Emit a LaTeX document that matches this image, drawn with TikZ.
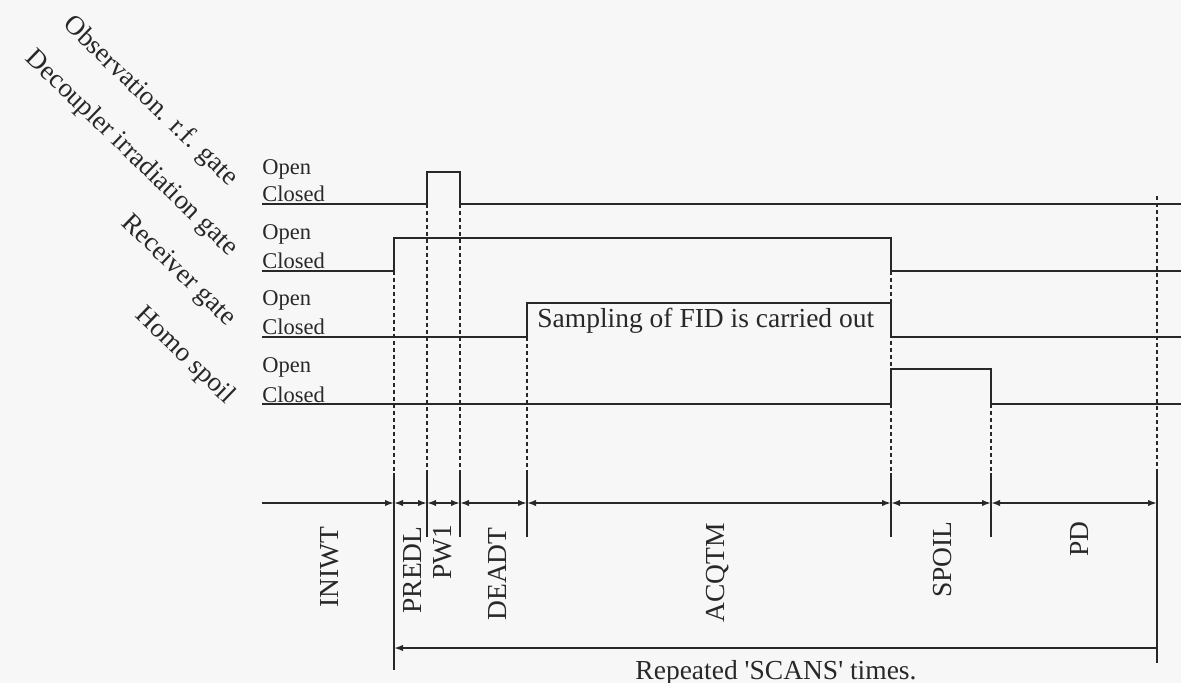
\documentclass[tikz,border=0pt]{standalone}
\usepackage{fontspec}
\setmainfont{Liberation Serif}
\usetikzlibrary{arrows.meta}
\definecolor{ink}{RGB}{40,40,40}

\begin{document}
\begin{tikzpicture}[x=0.5pt,y=-0.5pt,color=ink,
  sig/.style={line width=0.85pt},
  guide/.style={line width=0.6pt,dash pattern=on 2pt off 1.5pt},
  tick/.style={line width=0.6pt},
  dim/.style={line width=0.85pt,{Latex[length=4.5pt,width=3.2pt]}-{Latex[length=4.5pt,width=3.2pt]}},
  lvl/.style={font=\fontsize{11.25}{13}\selectfont,anchor=base west,inner sep=0pt},
  gate/.style={font=\fontsize{13.5}{15}\selectfont,rotate=-44,anchor=base east,inner sep=0pt},
  seg/.style={font=\fontsize{13.75}{16}\selectfont,rotate=90,anchor=east,inner sep=0pt},
  note/.style={font=\fontsize{13.75}{16}\selectfont,inner sep=0pt}]
  \useasboundingbox[fill=black!3] (0,0) rectangle (1181,683);

  % gate names and levels
  \node[gate] (gobs) at (229,187) {Observation. r.f. gate};
  \node[gate] (gdec) at (229,257) {Decoupler irradiation gate};
  \node[gate] (grec) at (227,327) {Receiver gate};
  \node[gate] (ghom) at (226,405) {Homo spoil};
  \node[lvl] (o1) at (262,175) {Open};   \node[lvl] (c1) at (262,202) {Closed};
  \node[lvl] (o2) at (262,240) {Open};   \node[lvl] (c2) at (262,269) {Closed};
  \node[lvl] (o3) at (262,306) {Open};   \node[lvl] (c3) at (262,335) {Closed};
  \node[lvl] (o4) at (262,372) {Open};   \node[lvl] (c4) at (262,402) {Closed};

  % signals
  \draw[sig] (262,204) -- (427,204) -- (427,172) -- (460,172) -- (460,204) -- (1181,204);
  \draw[sig] (262,271) -- (394,271) -- (394,238) -- (891,238) -- (891,271) -- (1181,271);
  \draw[sig] (262,337) -- (527,337) -- (527,303) -- (891,303) -- (891,337) -- (1181,337);
  \draw[sig] (262,404) -- (891,404) -- (891,369) -- (991,369) -- (991,404) -- (1181,404);
  \node[note,anchor=base west] (samp) at (537,328) {Sampling of FID is carried out};

  % guides and ticks
  \draw[guide] (394,271) -- (394,473);  \draw[tick] (394,473) -- (394,670);
  \draw[guide] (427,204) -- (427,473);  \draw[tick] (427,473) -- (427,537);
  \draw[guide] (460,204) -- (460,473);  \draw[tick] (460,473) -- (460,537);
  \draw[guide] (527,337) -- (527,473);  \draw[tick] (527,473) -- (527,537);
  \draw[guide] (891,271) -- (891,473);  \draw[tick] (891,473) -- (891,537);
  \draw[guide] (991,404) -- (991,473);  \draw[tick] (991,473) -- (991,537);
  \draw[guide] (1157,196) -- (1157,473); \draw[tick] (1157,473) -- (1157,663);

  % time axis
  \coordinate (t0) at (262,503);
  \coordinate (t1) at (394,503);
  \coordinate (t2) at (427,503);
  \coordinate (t3) at (460,503);
  \coordinate (t4) at (527,503);
  \coordinate (t5) at (891,503);
  \coordinate (t6) at (991,503);
  \coordinate (t7) at (1157,503);
  \draw[sig,-{Latex[length=4.5pt,width=3.2pt]}] (t0) -- (t1);
  \draw[dim] (t1) -- (t2); \draw[dim] (t2) -- (t3);
  \draw[dim] (t3) -- (t4); \draw[dim] (t4) -- (t5);
  \draw[dim] (t5) -- (t6); \draw[dim] (t6) -- (t7);

  \node[seg] (iniwt) at (330,526) {INIWT};
  \node[seg] (predl) at (413,526) {PREDL};
  \node[seg] (pw1)   at (443,524) {PW1};
  \node[seg] (deadt) at (497,527) {DEADT};
  \node[seg] (acqtm) at (718,523) {ACQTM};
  \node[seg] (spoil) at (943,521) {SPOIL};
  \node[seg] (pd)    at (1080,521) {PD};

  % repeat span
  \coordinate (r1) at (394,648);
  \coordinate (r7) at (1157,648);
  \draw[sig,{Latex[length=4.5pt,width=3.2pt]}-] (r1) -- (r7);
  \node[note,anchor=base] (rep) at (776,679) {Repeated \textquotesingle SCANS\textquotesingle\ times.};
\end{tikzpicture}
\end{document}
